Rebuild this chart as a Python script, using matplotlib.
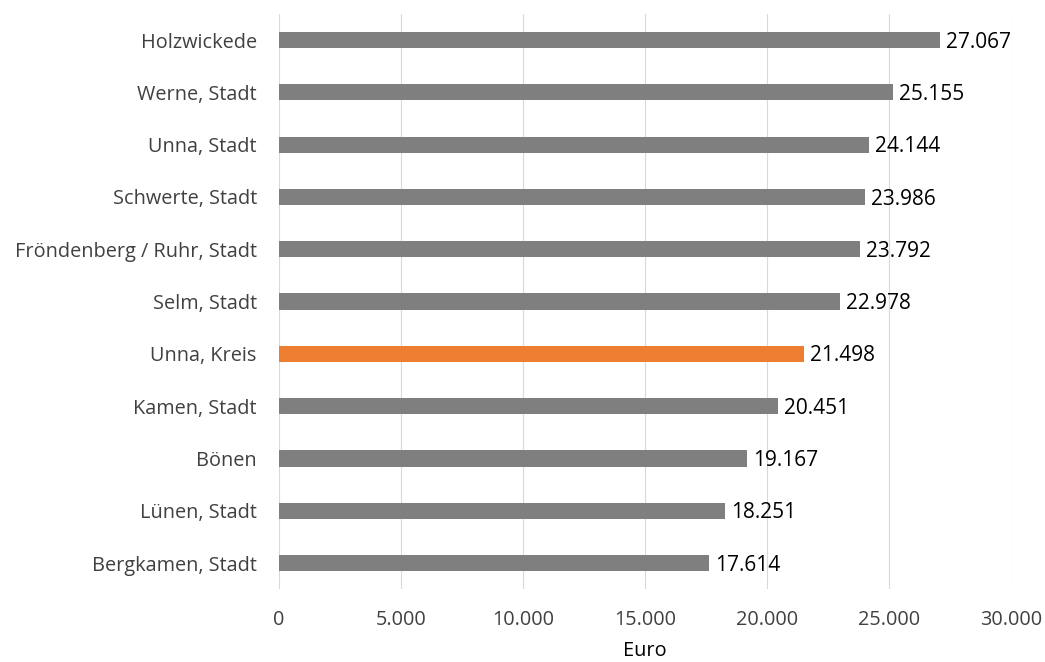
import matplotlib.pyplot as plt

plt.rcParams['font.family'] = ['Open Sans', 'DejaVu Sans']

gemeinden = [
    "Holzwickede", "Werne, Stadt", "Unna, Stadt", "Schwerte, Stadt",
    "Fröndenberg / Ruhr, Stadt", "Selm, Stadt", "Unna, Kreis", "Kamen, Stadt",
    "Bönen", "Lünen, Stadt", "Bergkamen, Stadt",
]
werte = [27067, 25155, 24144, 23986, 23792, 22978, 21498, 20451, 19167, 18251, 17614]
x_ticks = [0, 5000, 10000, 15000, 20000, 25000, 30000]

farben = ["#ed7d31" if g == "Unna, Kreis" else "#7f7f7f" for g in gemeinden]


def fmt(v):
    return f"{v:,}".replace(",", ".")


fig = plt.figure(figsize=(10.45, 6.62), dpi=100)
ax = fig.add_axes([0.267, 0.110, 0.701, 0.869])

pos = list(range(len(gemeinden)))
ax.barh(pos, werte, height=0.31, color=farben, zorder=3)
for p, v in zip(pos, werte):
    ax.text(v + 250, p + 0.04, fmt(v), va="center", ha="left", fontsize=15, color="black")

ax.set_yticks(pos)
ax.set_yticklabels(gemeinden, fontsize=14.3, color="#404040")
ax.set_ylim(len(gemeinden) - 0.5, -0.5)
ax.set_xlim(0, 30000)
ax.set_xticks(x_ticks)
ax.set_xticklabels([fmt(t) for t in x_ticks], fontsize=14.3, color="#404040")
ax.set_xlabel("Euro", fontsize=14.3, color="black", labelpad=8)

ax.grid(axis="x", color="#d9d9d9", linewidth=0.8, zorder=0)
for s in ax.spines.values():
    s.set_visible(False)
ax.tick_params(axis="x", length=0, pad=15)
ax.tick_params(axis="y", length=0, pad=16)

fig.savefig("out.png", dpi=100)
